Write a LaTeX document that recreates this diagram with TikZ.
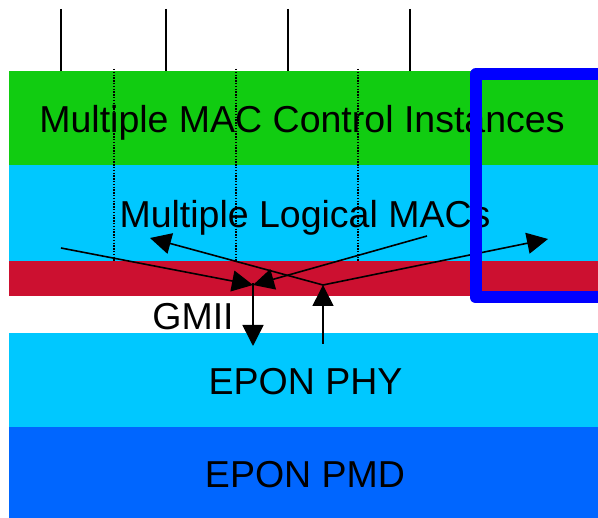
\documentclass[tikz,border=0pt]{standalone}
\usepackage{fontspec}
\setmainfont{Liberation Sans}
\usetikzlibrary{arrows.meta}
\definecolor{mccgreen}{RGB}{17,204,17}
\definecolor{maccyan}{RGB}{0,200,255}
\definecolor{gmiired}{RGB}{204,16,48}
\definecolor{pmdblue}{RGB}{0,102,255}
\definecolor{frameblue}{RGB}{0,0,255}

\begin{document}
\begin{tikzpicture}[x=1pt,y=-1pt,
    lbl/.style={anchor=base,font=\fontsize{37.5}{40}\selectfont},
    sig/.style={line width=1.6pt,-{Triangle[length=21pt,width=21pt]}}]
    \path[use as bounding box,clip] (0,0) rectangle (598,518);
    % layers
    \fill[mccgreen] (9,71) rectangle (598,165);
    \fill[maccyan] (9,165) rectangle (598,261);
    \fill[gmiired] (9,261) rectangle (598,296);
    \fill[maccyan] (9,333) rectangle (598,427);
    \fill[pmdblue] (9,427) rectangle (598,518);
    % labels
    \node[lbl] (MCC) at (302,133) {Multiple MAC Control Instances};
    \node[lbl] (LMAC) at (305,228) {Multiple Logical MACs};
    \node[lbl] (GMII) at (193,330) {GMII};
    \node[lbl] (PHY) at (305.5,395) {EPON PHY};
    \node[lbl] (PMD) at (305,488) {EPON PMD};
    % clients above and dotted MAC instances
    \foreach \x in {61,166,288,410}
      \draw[line width=1.6pt] (\x,9) -- (\x,71);
    \foreach \x in {114,236,358}
      \draw[line width=1.3pt,dash pattern=on 1.4pt off 1.4pt] (\x,69) -- (\x,261);
    % data paths
    \coordinate (tx) at (253,285);
    \coordinate (rx) at (323,285);
    \coordinate (txA) at (61,248);
    \coordinate (txB) at (427,236);
    \coordinate (txPhy) at (253,346);
    \coordinate (rxPhy) at (323,344);
    \coordinate (rxA) at (150,238);
    \coordinate (rxB) at (548,239);
    \draw[sig] (txA) -- (tx);
    \draw[sig] (txB) -- (tx);
    \draw[sig] (253,283) -- (txPhy);
    \draw[sig] (rxPhy) -- (rx);
    \draw[sig] (rx) -- (rxA);
    \draw[sig] (rx) -- (rxB);
    % selected instance
    \draw[frameblue,line width=12pt,line join=round] (475.5,74.5) rectangle (604,297.5);
\end{tikzpicture}
\end{document}
